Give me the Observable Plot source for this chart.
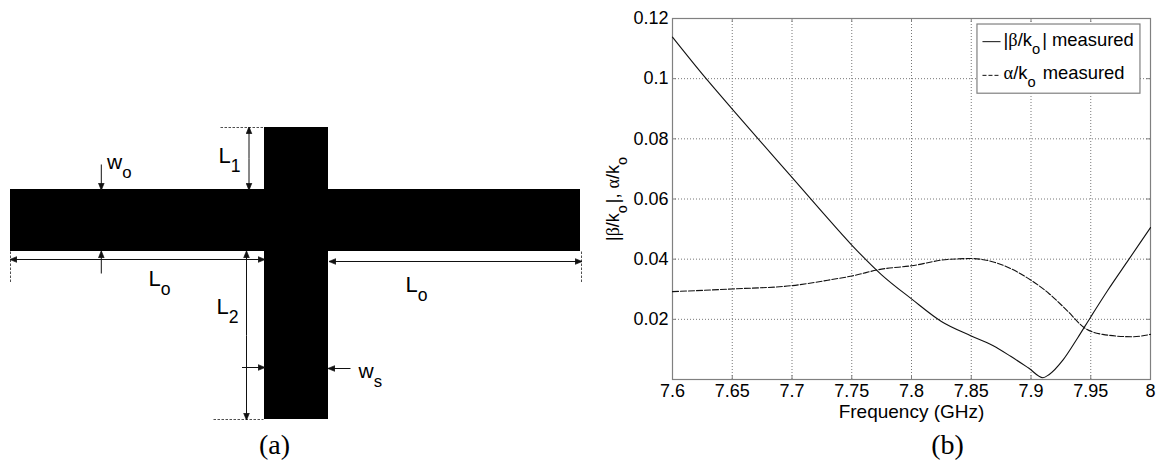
<!DOCTYPE html>
<html><head><meta charset="utf-8">
<script src="https://cdn.jsdelivr.net/npm/d3@7"></script>
<script src="https://cdn.jsdelivr.net/npm/@observablehq/plot@0.6"></script>
<style>
html,body{margin:0;padding:0;background:#fff;}
#root{position:relative;width:1159px;height:462px;overflow:hidden;}
#root svg{position:absolute;top:0;background:#fff;}
</style></head><body><div id="root"></div>
<script>
// Panel (b) data
const freq = [7.6,7.625,7.65,7.675,7.7,7.725,7.75,7.775,7.8,7.825,7.85,7.868,7.883,7.898,7.91,7.915,7.927,7.939,7.95,7.964,7.982,8];
const betaK = [.1138,.1015,.0899,.0785,.0672,.0558,.0447,.0348,.0268,.0193,.0145,.0113,.0077,.0038,.0006,.0016,.0066,.0138,.0208,.0295,.04,.0505];
const alphaFreq = [7.6,7.65,7.7,7.73,7.75,7.775,7.8,7.83,7.85,7.87,7.9,7.915,7.93,7.945,7.96,7.985,8];
const alphaK = [.0292,.0301,.0312,.033,.0344,.0367,.0378,.0399,.0402,.0389,.033,.0286,.023,.0171,.015,.0142,.015];
const xTicks = [7.6,7.65,7.7,7.75,7.8,7.85,7.9,7.95,8];
const yTicks = [.02,.04,.06,.08,.1,.12];
const legendBox = [{x1:7.8552,x2:7.9916,y1:.095,y2:.118}];
const legendSolid = [{x1:7.8594,x2:7.8745,y:.1123}];
const legendDash = [{x1:7.8594,x2:7.8745,y:.1011}];
const legendText = [{x:7.877,y:.1127,t:"|β/k~o~| measured"},{x:7.877,y:.1017,t:"α/k~o~ measured"}];

// Panel (a) schematic, in drawing units
const strips = [{x1:10,x2:580,y1:189,y2:251},{x1:264,x2:328,y1:127,y2:419}];
const doubleArrows = [{x1:10,y1:259,x2:264,y2:259},{x1:329,y1:261,x2:581,y2:261}];
const singleArrows = [
  {x1:248.5,y1:158,x2:248.5,y2:127},{x1:248.5,y1:158,x2:248.5,y2:189},
  {x1:100.8,y1:164,x2:100.8,y2:189},{x1:100.8,y1:273,x2:100.8,y2:251},
  {x1:246,y1:335,x2:246,y2:251},{x1:246,y1:335,x2:246,y2:419},
  {x1:241.5,y1:367,x2:264,y2:367},{x1:350,y1:368,x2:328,y2:368}];
const dashedLeaders = [
  {x1:220,y1:127,x2:263,y2:127},{x1:213,y1:419,x2:263,y2:419},
  {x1:10,y1:251,x2:10,y2:283},{x1:581,y1:251,x2:581,y2:283}];
const bigLabels = [{x:218,y:155,t:"L~1~"},{x:148,y:278,t:"L~o~"},{x:216,y:306,t:"L~2~"},{x:405,y:284,t:"L~o~"}];
const smallLabels = [{x:106.5,y:162,t:"w~o~"},{x:358,y:371,t:"w~s~"}];

const sans = "Liberation Sans, Arial, sans-serif";
const serif = "Liberation Serif, Times New Roman, serif";

function triangle(color, context){
  const ns = "http://www.w3.org/2000/svg";
  const m = context.document.createElementNS(ns,"marker");
  m.setAttribute("viewBox","-5 -5 10 10");
  m.setAttribute("markerWidth",7);m.setAttribute("markerHeight",7);
  m.setAttribute("orient","auto-start-reverse");
  m.setAttribute("markerUnits","userSpaceOnUse");
  m.setAttribute("refX",4);
  const p = context.document.createElementNS(ns,"path");
  p.setAttribute("d","M-5,-4L5,0L-5,4z");p.setAttribute("fill",color);
  m.appendChild(p);return m;
}

function richText(svg){
  svg.querySelectorAll("text").forEach(t=>{
    const s=t.textContent;
    if(!/[~βα]/.test(s)||t.children.length>1)return;
    const fs=parseFloat(getComputedStyle(t).fontSize)||16;
    const shift=fs*0.42;
    const host=t.querySelector("tspan")||t;
    host.textContent="";
    let back=false;
    s.split(/(~[^~]+~|[βα])/).filter(Boolean).forEach(p=>{
      const e=document.createElementNS("http://www.w3.org/2000/svg","tspan");
      if(p[0]==="~"){
        e.textContent=p.slice(1,-1);
        e.setAttribute("font-size",fs*0.8);
        e.setAttribute("dy",shift);
        back=true;
      }else{
        e.textContent=p;
        if(back){e.setAttribute("dy",-shift);e.setAttribute("dx",2);back=false;}
        if(/[βα]/.test(p))e.setAttribute("font-family",serif);
      }
      host.appendChild(e);
    });
  });
}

const a = Plot.plot({
  width:600,height:462,margin:0,
  x:{domain:[0,600],range:[0,600],axis:null},
  y:{domain:[0,462],range:[0,462],axis:null},
  marks:[
    Plot.rect(strips,{x1:"x1",x2:"x2",y1:"y1",y2:"y2",fill:"#000"}),
    Plot.link(dashedLeaders,{x1:"x1",y1:"y1",x2:"x2",y2:"y2",stroke:"#222",strokeWidth:.8,strokeDasharray:"2.5,1.5"}),
    Plot.link(doubleArrows,{x1:"x1",y1:"y1",x2:"x2",y2:"y2",stroke:"#111",strokeWidth:1,markerStart:triangle,markerEnd:triangle}),
    Plot.link(singleArrows,{x1:"x1",y1:"y1",x2:"x2",y2:"y2",stroke:"#111",strokeWidth:1,markerEnd:triangle}),
    Plot.text(bigLabels,{x:"x",y:"y",text:"t",textAnchor:"start",fontSize:22,fontFamily:sans,fill:"#000"}),
    Plot.text(smallLabels,{x:"x",y:"y",text:"t",textAnchor:"start",fontSize:21,fontFamily:sans,fill:"#000"}),
    Plot.text(["(a)"],{frameAnchor:"top-left",dx:274,dy:445,textAnchor:"middle",lineAnchor:"middle",fontSize:28,fontFamily:serif,fill:"#000"})
  ]
});
a.style.left="0px";

const betaRows = freq.map((f,i)=>({f,v:betaK[i]}));
const alphaRows = alphaFreq.map((f,i)=>({f,v:alphaK[i]}));
const tickColor = {stroke:"#808080",strokeWidth:1};
const b = Plot.plot({
  width:559,height:462,marginLeft:72,marginRight:9,marginTop:18,marginBottom:83,
  style:{fontFamily:sans},
  x:{domain:[7.6,8]},
  y:{domain:[0,.12]},
  marks:[
    Plot.gridX(xTicks.slice(1,-1),{stroke:"#777",strokeOpacity:1,strokeDasharray:"1,2",strokeWidth:1}),
    Plot.gridY(yTicks.slice(0,-1),{stroke:"#777",strokeOpacity:1,strokeDasharray:"1,2",strokeWidth:1}),
    Plot.ruleX(xTicks,{y1:0,y2:.0013,...tickColor}),
    Plot.ruleX(xTicks,{y1:.12,y2:.1187,...tickColor}),
    Plot.ruleY(yTicks,{x1:7.6,x2:7.6033,...tickColor}),
    Plot.ruleY(yTicks,{x1:8,x2:7.9967,...tickColor}),
    Plot.axisX(xTicks,{tickSize:0,tickPadding:5,fontSize:18,label:null,fill:"#000",tickFormat:d=>String(d)}),
    Plot.axisY(yTicks,{tickSize:0,tickPadding:4,fontSize:18,label:null,fill:"#000",tickFormat:d=>String(d)}),
    Plot.frame({stroke:"#808080",strokeWidth:1.2}),
    Plot.line(alphaRows,{x:"f",y:"v",stroke:"#111",strokeWidth:1.1,strokeDasharray:"6,2",curve:"monotone-x"}),
    Plot.line(betaRows,{x:"f",y:"v",stroke:"#111",strokeWidth:1.1,curve:"monotone-x"}),
    Plot.rect(legendBox,{x1:"x1",x2:"x2",y1:"y1",y2:"y2",fill:"#fff",stroke:"#808080",strokeWidth:1.2}),
    Plot.link(legendSolid,{x1:"x1",x2:"x2",y1:"y",y2:"y",stroke:"#111"}),
    Plot.link(legendDash,{x1:"x1",x2:"x2",y1:"y",y2:"y",stroke:"#111",strokeDasharray:"4,2"}),
    Plot.text(legendText,{x:"x",y:"y",text:"t",textAnchor:"start",fontSize:18.4,fontFamily:sans,fill:"#000"}),
    Plot.text(["Frequency (GHz)"],{frameAnchor:"bottom",dy:32,lineAnchor:"middle",fontSize:19,fontFamily:sans,fill:"#000"}),
    Plot.text(["|β/k~o~|, α/k~o~"],{frameAnchor:"left",rotate:-90,dx:-59,textAnchor:"middle",fontSize:18,fontFamily:sans,fill:"#000"}),
    Plot.text(["(b)"],{frameAnchor:"top-left",dx:275,dy:427,textAnchor:"middle",lineAnchor:"middle",fontSize:28,fontFamily:serif,fill:"#000"})
  ]
});
b.style.left="600px";

const root=document.getElementById("root");
root.appendChild(a);root.appendChild(b);
richText(a);richText(b);
</script></body></html>
